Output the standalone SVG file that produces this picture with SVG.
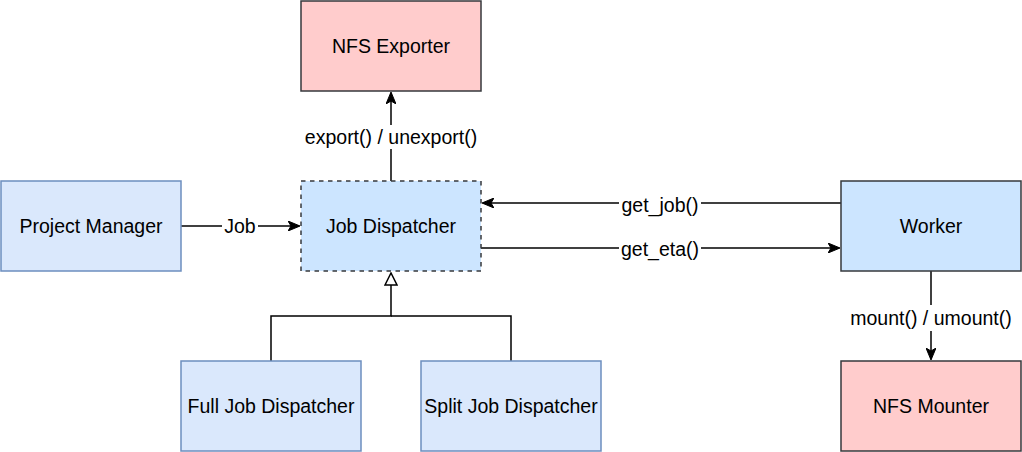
<svg xmlns="http://www.w3.org/2000/svg" width="1022" height="452" viewBox="0 0 1022 452">
<style>
text{font-family:"Liberation Sans",Arial,sans-serif;font-size:19.5px;fill:#000;text-anchor:middle}
.blue{fill:#dae8fc;stroke:#6c8ebf;stroke-width:1.5}
.sel{fill:#cce5ff;stroke:#36393d;stroke-width:1.5}
.red{fill:#ffcccc;stroke:#36393d;stroke-width:1.5}
.edge{fill:none;stroke:#000;stroke-width:1.5}
.lbl{fill:#fff;stroke:none}
</style>
<defs>
<marker id="arr" markerUnits="userSpaceOnUse" viewBox="0 0 12 10" refX="11" refY="5" markerWidth="12" markerHeight="10" orient="auto">
<path d="M0,0 L12,5 L0,10 L3,5 Z" fill="#000" stroke="#000" stroke-width="1"/>
</marker>
<marker id="tri" markerUnits="userSpaceOnUse" viewBox="-1 -1 14 14" refX="12" refY="6" markerWidth="14" markerHeight="14" orient="auto">
<path d="M0,0 L12,6 L0,12 Z" fill="#fff" stroke="#000" stroke-width="1.5"/>
</marker>
</defs>
<rect width="1022" height="452" fill="#fff"/>
<g id="connectors">
<path class="edge" d="M181,226 H299" marker-end="url(#arr)"/>
<rect class="lbl" x="222" y="215" width="36" height="22"/>
<text x="240" y="233">Job</text>
<path class="edge" d="M391,181 V93" marker-end="url(#arr)"/>
<rect class="lbl" x="302" y="125" width="178" height="24"/>
<text x="391" y="144">export() / unexport()</text>
<path class="edge" d="M841,203 H483" marker-end="url(#arr)"/>
<rect class="lbl" x="619" y="194" width="82" height="24"/>
<text x="660" y="212">get_job()</text>
<path class="edge" d="M481,248 H839" marker-end="url(#arr)"/>
<rect class="lbl" x="619" y="238" width="82" height="24"/>
<text x="660" y="256">get_eta()</text>
<path class="edge" d="M931,271 V359" marker-end="url(#arr)"/>
<rect class="lbl" x="846" y="305" width="170" height="26"/>
<text x="931" y="325">mount() / umount()</text>
<path class="edge" d="M271,361 V316 H391 V273" marker-end="url(#tri)"/>
<path class="edge" d="M511,361 V316 H391"/>
</g>
<g id="nfs-exporter"><rect class="red" x="301" y="1" width="180" height="90"/><text x="391" y="53">NFS Exporter</text></g>
<g id="project-manager"><rect class="blue" x="1" y="181" width="180" height="90"/><text x="91" y="233">Project Manager</text></g>
<g id="job-dispatcher"><rect class="sel" x="301" y="181" width="180" height="90" stroke-dasharray="4.5 4.5"/><text x="391" y="233">Job Dispatcher</text></g>
<g id="worker"><rect class="sel" x="841" y="181" width="180" height="90"/><text x="931" y="233">Worker</text></g>
<g id="full-job-dispatcher"><rect class="blue" x="181" y="361" width="180" height="90"/><text x="271" y="413">Full Job Dispatcher</text></g>
<g id="split-job-dispatcher"><rect class="blue" x="421" y="361" width="180" height="90"/><text x="511" y="413">Split Job Dispatcher</text></g>
<g id="nfs-mounter"><rect class="red" x="841" y="361" width="180" height="90"/><text x="931" y="413">NFS Mounter</text></g>
</svg>
